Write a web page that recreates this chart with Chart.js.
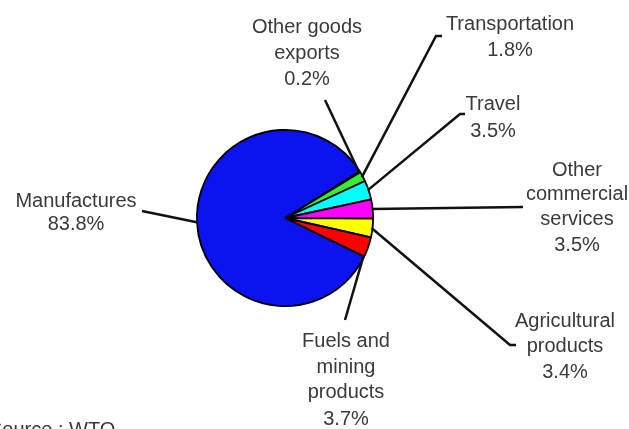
<!DOCTYPE html>
<html>
<head>
<meta charset="utf-8">
<script src="https://cdn.jsdelivr.net/npm/chart.js@4/dist/chart.umd.min.js"></script>
<style>
  html, body { margin: 0; padding: 0; background: #fff; }
  #wrap { width: 629px; height: 429px; }
</style>
</head>
<body>
<div id="wrap"><canvas id="pie" width="629" height="429"></canvas></div>
<script>
// shares of world merchandise + commercial services exports, %
const categories = ['Other goods exports', 'Transportation', 'Travel', 'Other commercial services',
                    'Agricultural products', 'Fuels and mining products', 'Manufactures'];
const shares = [0.2, 1.8, 3.5, 3.5, 3.4, 3.7, 83.8];
const labelLines = [['Other goods', 'exports'], ['Transportation'], ['Travel'], ['Other', 'commercial', 'services'],
                    ['Agricultural', 'products'], ['Fuels and', 'mining', 'products'], ['Manufactures']];
const sliceColors = ['#6b6b00', '#33ee33', '#00ffff', '#ff00ff', '#ffff00', '#ff0000', '#0b14f0'];
const sourceNote = 'Source : WTO';

// where each label sits, and where its leader line ends
const labelLayout = [
    { x: 307, y: [33, 59, 85], end: [325, 100], shift: 0 },
    { x: 510, y: [30, 56], end: [436, 36], hook: 6, shift: 0 },
    { x: 493, y: [110, 137], end: [460, 114], hook: 5, shift: 0 },
    { x: 577, y: [176, 200, 225, 251], end: [523, 207], shift: 0 },
    { x: 565, y: [327, 352, 378], end: [510, 345], hook: 6, shift: 0 },
    { x: 346, y: [347, 373, 398, 425], end: [345, 320], shift: 6 },
    { x: 76, y: [207, 230], end: [142, 211], shift: 0 }
];

const labelFont = '20px "Liberation Sans", Arial, sans-serif';

const calloutPlugin = {
    id: 'callouts',
    afterDraw(chart) {
        const ctx = chart.ctx;
        const arcs = chart.getDatasetMeta(0).data;
        ctx.save();
        ctx.strokeStyle = '#111';
        ctx.lineWidth = 2.5;
        arcs.forEach((arc, i) => {
            const lay = labelLayout[i];
            const p = arc.getProps(['x', 'y', 'startAngle', 'endAngle', 'outerRadius'], true);
            const a = (p.startAngle + p.endAngle) / 2 + lay.shift * Math.PI / 180;
            const sx = p.x + Math.cos(a) * (p.outerRadius - 1);
            const sy = p.y + Math.sin(a) * (p.outerRadius - 1);
            ctx.beginPath();
            ctx.moveTo(sx, sy);
            ctx.lineTo(lay.end[0], lay.end[1]);
            if (lay.hook) ctx.lineTo(lay.end[0] + lay.hook, lay.end[1]);
            ctx.stroke();
        });
        ctx.fillStyle = '#3a3a3a';
        ctx.font = labelFont;
        ctx.textAlign = 'center';
        ctx.textBaseline = 'alphabetic';
        labelLines.forEach((lines, i) => {
            const lay = labelLayout[i];
            const all = lines.concat([shares[i].toFixed(1) + '%']);
            all.forEach((t, k) => ctx.fillText(t, lay.x, lay.y[k]));
        });
        ctx.textAlign = 'left';
        ctx.fillText(sourceNote, -11, 436);
        ctx.restore();
    }
};

new Chart(document.getElementById('pie'), {
    type: 'pie',
    data: {
        labels: categories,
        datasets: [{
            data: shares,
            backgroundColor: sliceColors,
            borderColor: '#000',
            borderWidth: 1.8,
            hoverOffset: 0
        }]
    },
    options: {
        responsive: false,
        animation: false,
        rotation: 58,
        layout: { padding: { left: 0, right: 59, top: 129, bottom: 122 } },
        plugins: {
            legend: { display: false },
            tooltip: { enabled: false }
        }
    },
    plugins: [calloutPlugin]
});
</script>
</body>
</html>
